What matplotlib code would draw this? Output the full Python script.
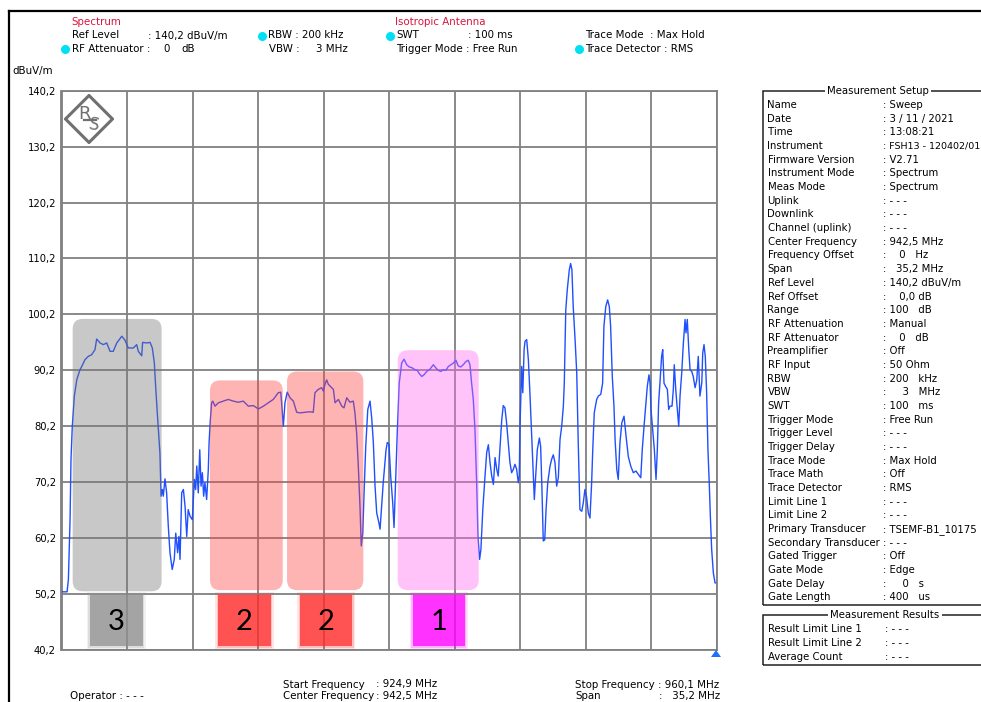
import matplotlib
matplotlib.use("Agg")
import numpy as np
import matplotlib.pyplot as plt
from matplotlib.patches import FancyBboxPatch, Rectangle, Polygon
from matplotlib.lines import Line2D

# ---------------- data ----------------
F_START, F_STOP = 924.9, 960.1          # MHz
Y_MIN, Y_MAX = 40.2, 140.2              # dBuV/m
y_ticks = [40.2, 50.2, 60.2, 70.2, 80.2, 90.2, 100.2, 110.2, 120.2, 130.2, 140.2]
y_tick_labels = ["40,2", "50,2", "60,2", "70,2", "80,2", "90,2", "100,2",
                 "110,2", "120,2", "130,2", "140,2"]

freq_mhz = [
    924.90, 925.20, 925.27, 925.36, 925.41, 925.48, 925.59, 925.72, 925.89, 925.99,
    926.16, 926.34, 926.52, 926.70, 926.79, 926.97, 927.15, 927.33, 927.51, 927.68,
    927.87, 928.14, 928.31, 928.49, 928.76, 928.94, 929.03, 929.21, 929.26, 929.48,
    929.66, 929.78, 929.89, 929.96, 930.07, 930.19, 930.25, 930.32, 930.37, 930.46,
    930.55, 930.64, 930.73, 930.85, 930.96, 931.04, 931.14, 931.21, 931.27, 931.36,
    931.45, 931.54, 931.63, 931.71, 931.81, 931.93, 932.04, 932.11, 932.17, 932.25,
    932.33, 932.40, 932.47, 932.54, 932.61, 932.70, 932.79, 932.83, 932.90, 932.97,
    933.03, 933.15, 933.33, 933.60, 933.86, 934.13, 934.40, 934.67, 934.94, 935.21,
    935.48, 935.75, 936.01, 936.28, 936.55, 936.68, 936.73, 936.82, 936.91, 937.03,
    937.18, 937.36, 937.54, 937.72, 937.99, 938.25, 938.43, 938.52, 938.70, 938.88,
    938.97, 939.06, 939.15, 939.24, 939.42, 939.51, 939.60, 939.78, 939.96, 940.08,
    940.23, 940.40, 940.58, 940.67, 940.76, 940.85, 940.94, 941.01, 941.09, 941.16,
    941.25, 941.36, 941.48, 941.57, 941.66, 941.75, 941.84, 941.96,
    942.02, 942.19, 942.34, 942.41, 942.50, 942.59, 942.70, 942.77, 942.84, 942.95,
    943.05, 943.18, 943.31, 943.45, 943.59, 943.72, 943.90, 944.02, 944.13, 944.26,
    944.38, 944.53, 944.70, 944.88, 945.03, 945.15, 945.28, 945.42, 945.56, 945.69,
    945.82, 945.96, 946.10, 946.22, 946.35, 946.49, 946.64, 946.76, 946.85, 946.94,
    947.03, 947.12, 947.21, 947.28, 947.37, 947.44, 947.54, 947.66, 947.75, 947.84,
    947.93, 948.02, 948.11, 948.20, 948.29, 948.37, 948.47, 948.56, 948.64, 948.73,
    948.82, 948.91, 949.00, 949.09, 949.18, 949.27, 949.36, 949.45, 949.50, 949.54,
    949.63, 949.69, 949.76, 949.81, 949.90, 949.99, 950.08, 950.17, 950.26, 950.31,
    950.36, 950.47, 950.58, 950.65, 950.72, 950.79, 950.87, 950.94, 951.03,
    951.15, 951.24, 951.33, 951.42, 951.51, 951.60, 951.69, 951.78, 951.87, 951.92,
    952.00, 952.08, 952.19, 952.26, 952.33, 952.40, 952.50, 952.59, 952.67, 952.76,
    952.86, 952.94, 953.03, 953.12, 953.21, 953.30, 953.39, 953.45, 953.53, 953.66,
    953.75, 953.88, 953.98, 954.05, 954.15, 954.25, 954.34, 954.41, 954.50, 954.59,
    954.65, 954.74, 954.82, 954.91, 955.01, 955.13, 955.24, 955.36, 955.49, 955.63,
    955.77, 955.90, 956.03, 956.11, 956.22, 956.31, 956.38, 956.47, 956.53, 956.58,
    956.67, 956.76, 956.85, 956.92, 956.99, 957.06, 957.15, 957.21, 957.28, 957.37,
    957.46, 957.53, 957.60, 957.71, 957.78, 957.83, 957.91, 957.98, 958.07, 958.14,
    958.23, 958.32, 958.41, 958.46, 958.53, 958.61, 958.68, 958.77, 958.85, 958.95,
    959.04, 959.12, 959.21, 959.31, 959.36, 959.43, 959.50, 959.57, 959.64, 959.71,
    959.77, 959.84, 959.93, 960.02, 960.10,
]
level_dbuv = [
    50.6, 50.6, 52.8, 63.5, 74.3, 80.2, 85.6, 88.5, 90.3, 90.9,
    92.1, 92.7, 93.0, 93.9, 95.8, 95.1, 94.8, 95.1, 93.6, 93.6,
    95.1, 96.3, 95.6, 94.2, 94.2, 94.8, 93.6, 92.8, 95.2, 95.1,
    95.2, 94.2, 91.5, 87.3, 81.4, 75.4, 67.7, 68.9, 67.7, 70.8,
    68.3, 62.3, 57.6, 54.6, 56.4, 61.1, 57.6, 60.5, 56.4, 68.3,
    68.9, 65.9, 60.5, 65.3, 64.1, 63.5, 70.7, 68.9, 73.1, 68.3,
    76.0, 69.5, 71.9, 67.7, 70.1, 67.1, 72.5, 77.2, 81.4, 84.4,
    84.7, 83.8, 84.4, 84.7, 85.0, 84.7, 84.5, 84.7, 83.8, 83.9,
    83.3, 83.8, 84.4, 85.0, 86.2, 86.3, 84.4, 80.2, 84.4, 86.3,
    85.3, 84.7, 82.7, 82.6, 82.7, 82.8, 82.7, 86.2, 86.8, 87.1,
    86.5, 87.7, 88.5, 87.7, 87.1, 86.8, 84.4, 85.0, 83.8, 83.5,
    85.3, 84.5, 84.7, 82.6, 79.0, 73.1, 65.9, 58.8, 61.1, 68.3,
    76.6, 83.2, 84.7, 81.7, 77.2, 69.5, 64.7, 62.9,
    61.8, 70.1, 76.0, 77.3, 77.0, 71.3, 66.5, 62.1, 68.9, 79.6,
    87.9, 91.5, 92.2, 91.2, 90.8, 90.7, 90.3, 90.2, 89.6, 89.1,
    89.4, 90.0, 90.4, 91.2, 90.6, 90.2, 90.0, 90.3, 90.2, 90.9,
    91.2, 91.5, 92.0, 91.0, 90.8, 91.2, 91.8, 92.0, 91.2, 87.9,
    85.0, 79.6, 70.1, 60.6, 56.4, 58.2, 65.3, 71.3, 75.5, 76.9,
    73.7, 71.3, 69.8, 74.6, 72.5, 71.3, 76.6, 81.4, 83.9, 83.5,
    80.8, 77.2, 73.7, 71.9, 72.5, 73.4, 72.5, 70.1, 71.3, 80.2,
    90.9, 86.2, 93.9, 95.4, 95.7, 92.1, 85.6, 78.4, 71.3, 67.1,
    70.1, 76.0, 78.1, 76.6, 68.9, 59.7, 59.9, 65.3, 70.1,
    73.0, 74.3, 75.1, 73.7, 69.5, 71.0, 77.8, 80.2, 83.8, 87.9,
    101.0, 104.6, 108.2, 109.3, 108.2, 101.6, 95.7, 89.7, 77.2, 65.3,
    65.0, 66.5, 68.9, 67.5, 64.7, 63.8, 70.1, 76.0, 82.6, 85.0,
    85.6, 85.9, 87.9, 98.1, 101.6, 102.8, 101.6, 98.1, 89.1, 83.8,
    77.8, 72.5, 70.7, 77.2, 80.8, 82.0, 78.4, 74.8, 73.1, 71.9,
    72.2, 71.6, 71.0, 76.0, 80.8, 84.4, 87.3, 89.4, 87.9, 83.2,
    79.6, 76.0, 70.7, 76.0, 84.4, 87.9, 92.7, 93.9, 87.9, 87.3,
    86.8, 83.2, 83.8, 83.8, 86.8, 91.2, 86.8, 83.8, 80.2, 85.6,
    89.7, 95.1, 99.3, 96.9, 99.3, 93.9, 90.3, 90.0, 89.1, 87.1,
    88.5, 92.7, 85.6, 88.0, 93.3, 94.8, 92.5, 86.2, 76.0, 70.1,
    64.1, 58.2, 54.0, 52.2, 52.2,
]

# highlighted channel groups (annotation overlays)
group_labels = ["3", "2", "2", "1"]
group_f_lo = [925.50, 932.88, 937.02, 942.97]
group_f_hi = [930.28, 936.79, 941.12, 947.32]
group_top = [99.4, 88.4, 90.0, 93.8]
group_bottom = [50.7, 50.9, 50.9, 50.9]
tag_f_lo = [926.43, 933.33, 937.72, 943.77]
tag_f_hi = [929.26, 936.14, 940.53, 946.58]
tag_lo, tag_hi = 40.9, 50.0

setup_labels = ["Name", "Date", "Time", "Instrument", "Firmware Version",
                "Instrument Mode", "Meas Mode", "Uplink", "Downlink",
                "Channel (uplink)", "Center Frequency", "Frequency Offset", "Span",
                "Ref Level", "Ref Offset", "Range", "RF Attenuation", "RF Attenuator",
                "Preamplifier", "RF Input", "RBW", "VBW", "SWT", "Trigger Mode",
                "Trigger Level", "Trigger Delay", "Trace Mode", "Trace Math",
                "Trace Detector", "Limit Line 1", "Limit Line 2", "Primary Transducer",
                "Secondary Transducer", "Gated Trigger", "Gate Mode", "Gate Delay",
                "Gate Length"]
setup_values = [": Sweep", ": 3 / 11 / 2021", ": 13:08:21", ": FSH13 - 120402/01",
                ": V2.71", ": Spectrum", ": Spectrum", ": - - -", ": - - -", ": - - -",
                ": 942,5 MHz", ":    0   Hz", ":   35,2 MHz", ": 140,2 dBuV/m",
                ":    0,0 dB", ": 100   dB", ": Manual", ":    0   dB", ": Off",
                ": 50 Ohm", ": 200   kHz", ":     3   MHz", ": 100   ms", ": Free Run",
                ": - - -", ": - - -", ": Max Hold", ": Off", ": RMS", ": - - -",
                ": - - -", ": TSEMF-B1_10175", ": - - -", ": Off", ": Edge",
                ":     0   s", ": 400   us"]
result_labels = ["Result Limit Line 1", "Result Limit Line 2", "Average Count"]
result_values = [": - - -", ": - - -", ": - - -"]

# ---------------- figure ----------------
W, H = 981, 702
fig = plt.figure(figsize=(W / 100, H / 100), dpi=100)
plt.rcParams["font.family"] = ["DejaVu Sans"]
FS = 7.4


def fx(x):
    return x / W


def fy(y):
    return 1 - y / H


def ftext(x, y, s, **kw):
    kw.setdefault("fontsize", FS)
    kw.setdefault("va", "center")
    kw.setdefault("ha", "left")
    return fig.text(fx(x), fy(y), s, **kw)


# screenshot frame lines
fig.add_artist(Line2D([fx(9), fx(985)], [fy(11), fy(11)], color="black", lw=1.6,
                      transform=fig.transFigure))
fig.add_artist(Line2D([fx(9), fx(9)], [fy(11), fy(710)], color="black", lw=1.6,
                      transform=fig.transFigure))

# ---------------- main axes ----------------
L, R, T, B = 61.5, 716.5, 90.7, 650.0
ax = fig.add_axes([fx(L), fy(B), (R - L) / W, (B - T) / H])
ax.set_xlim(F_START, F_STOP)
ax.set_ylim(Y_MIN, Y_MAX)
ax.set_xticks(np.linspace(F_START, F_STOP, 11))
ax.set_xticklabels([])
ax.set_yticks(y_ticks)
ax.set_yticklabels(y_tick_labels, fontsize=7.2)
ax.tick_params(length=0, pad=4)
ax.set_axisbelow(True)
ax.grid(True, color="#808080", lw=1.3)
for sp in ax.spines.values():
    sp.set_color("#808080")
    sp.set_linewidth(1.3)

ax.plot(freq_mhz, level_dbuv, color="#1f4fff", lw=1.0, zorder=2)

# pixel -> data scale helpers for rounded corners / blur
px_x = (F_STOP - F_START) / (R - L)
px_y = (Y_MAX - Y_MIN) / (B - T)
aspect = px_y / px_x

over_colors = ["#767676", "#ff4444", "#ff4444", "#ff69f2"]
tag_colors = ["#8f8f8f", "#ff2a2a", "#ff2a2a", "#ff00ff"]
for i in range(len(group_labels)):
    box = FancyBboxPatch((group_f_lo[i], group_bottom[i]),
                         group_f_hi[i] - group_f_lo[i], group_top[i] - group_bottom[i],
                         boxstyle="round,pad=0,rounding_size=%f" % (10 * px_x),
                         mutation_aspect=aspect, fc=over_colors[i], ec="none",
                         alpha=0.4, zorder=3)
    ax.add_patch(box)
    # blurred label square
    for grow, a in [(3, 0.12), (1.5, 0.2), (0, 0.72)]:
        ax.add_patch(Rectangle((tag_f_lo[i] - grow * px_x, tag_lo - grow * px_y),
                               tag_f_hi[i] - tag_f_lo[i] + 2 * grow * px_x,
                               tag_hi - tag_lo + 2 * grow * px_y,
                               fc=tag_colors[i], ec="none", alpha=a, zorder=3.5,
                               clip_on=False))
    ax.text((tag_f_lo[i] + tag_f_hi[i]) / 2, (tag_lo + tag_hi) / 2 - 0.3, group_labels[i],
            ha="center", va="center", fontsize=21, family=["Lato", "DejaVu Sans"],
            color="black", zorder=5)

# blue marker triangle at end
fig.add_artist(Polygon([[fx(711), fy(657)], [fx(721), fy(657)], [fx(716), fy(650)]],
                       closed=True, fc="#1f6fff", ec="none", transform=fig.transFigure))

# R&S logo
lax = fig.add_axes([fx(64), fy(144), 50 / W, 50 / H])
lax.set_xlim(0, 50)
lax.set_ylim(0, 50)
lax.axis("off")
lax.add_patch(Polygon([[25, 1.5], [48.5, 25], [25, 48.5], [1.5, 25]], closed=True,
                      fill=False, ec="#707070", lw=2.2))
lax.text(21, 30, "R", fontsize=13, color="#707070", ha="center", va="center")
lax.text(30, 19, "S", fontsize=12, color="#707070", ha="center", va="center",
         rotation=-10)
lax.plot([20, 32], [24, 24], color="#707070", lw=1.6)

# ---------------- header ----------------
RED = "#dc143c"
CYAN = "#00e0f5"
ftext(71.7, 22, "Spectrum", color=RED)
ftext(71.7, 35.5, "Ref Level")
ftext(147.7, 35.5, ": 140,2 dBuV/m")
ftext(71.7, 49, "RF Attenuator :")
ftext(163, 49, "0")
ftext(181, 49, "dB")
ftext(267.7, 35.5, "RBW : 200 kHz")
ftext(269.3, 49, "VBW :")
ftext(316, 49, "3 MHz")
ftext(395, 22, "Isotropic Antenna", color=RED)
ftext(396, 35.5, "SWT")
ftext(467.5, 35.5, ": 100 ms")
ftext(396, 49, "Trigger Mode : Free Run")
ftext(585, 35.5, "Trace Mode")
ftext(650, 35.5, ": Max Hold")
ftext(585, 49, "Trace Detector : RMS")
ftext(12, 71, "dBuV/m")
for (dx, dy) in [(65, 49), (262.3, 35.5), (389.5, 35.5), (578.5, 49)]:
    fig.add_artist(Line2D([fx(dx)], [fy(dy)], marker="o", ms=6.5, color=CYAN,
                          mec="none", transform=fig.transFigure))

# ---------------- footer ----------------
ftext(283, 684.5, "Start Frequency")
ftext(376, 684.5, ": 924,9 MHz")
ftext(283, 696, "Center Frequency")
ftext(376, 696, ": 942,5 MHz")
ftext(575, 684.5, "Stop Frequency : 960,1 MHz")
ftext(575, 696, "Span")
ftext(659, 696, ":   35,2 MHz")
ftext(70, 696, "Operator : - - -")

# ---------------- right panel ----------------
PFS = 7.3
EDGE = "#202020"
fig.add_artist(Rectangle((fx(762.5), fy(604.5)), (990 - 762.5) / W, (604.5 - 91) / H,
                         fill=False, ec=EDGE, lw=1.1, transform=fig.transFigure))
ftext(878, 91, "Measurement Setup", fontsize=PFS, ha="center",
      bbox=dict(fc="white", ec="none", pad=1.5))
for i, (lab, val) in enumerate(zip(setup_labels, setup_values)):
    yy = 105 + i * 13.68
    ftext(767.5, yy, lab, fontsize=PFS)
    ftext(883, yy, val, fontsize=PFS if len(val) < 17 else 6.8)

fig.add_artist(Rectangle((fx(762.5), fy(664.5)), (990 - 762.5) / W, (664.5 - 614.5) / H,
                         fill=False, ec=EDGE, lw=1.1, transform=fig.transFigure))
ftext(885, 614.5, "Measurement Results", fontsize=PFS, ha="center",
      bbox=dict(fc="white", ec="none", pad=1.5))
for i, (lab, val) in enumerate(zip(result_labels, result_values)):
    yy = 629.3 + i * 14
    ftext(767.5, yy, lab, fontsize=PFS)
    ftext(885, yy, val, fontsize=PFS)

fig.savefig("out.png", dpi=100)
